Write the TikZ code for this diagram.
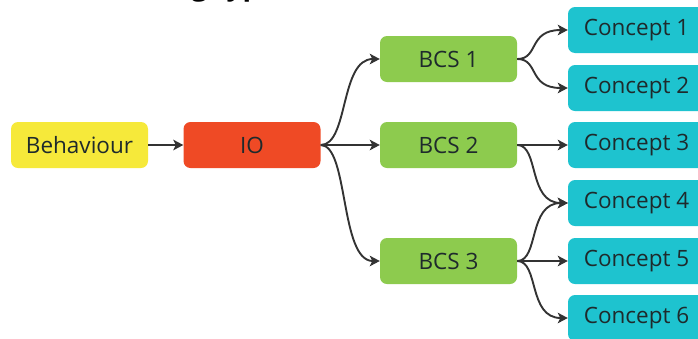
\documentclass[tikz,border=0pt]{standalone}
\usepackage{fontspec}
\setmainfont{Open Sans}
\usetikzlibrary{arrows.meta}
\definecolor{boxyellow}{HTML}{F6E93A}
\definecolor{boxred}{HTML}{EF4A25}
\definecolor{boxgreen}{HTML}{8DCB4E}
\definecolor{boxcyan}{HTML}{1EC3CF}
\definecolor{linkgray}{HTML}{333333}
\definecolor{labelink}{HTML}{1E2A2C}
\tikzset{
  card/.style={rounded corners=7pt, minimum width=137pt, minimum height=46pt,
    inner sep=0pt, text=labelink, font=\fontsize{22.5}{26}\selectfont},
  behaviourbox/.style={card, fill=boxyellow},
  iobox/.style={card, fill=boxred},
  bcsbox/.style={card, fill=boxgreen},
  conceptbox/.style={card, fill=boxcyan},
  link/.style={draw=linkgray, line width=1.9pt,
    -{Stealth[length=10pt,width=10.5pt,inset=2.5pt]}},
  swoop/.style={to path={.. controls +(#1,0) and +(-40,0) .. (\tikztotarget)}},
  swoop/.default=28,
}
\begin{document}
\begin{tikzpicture}[x=1pt,y=-1pt]
  \useasboundingbox (0,0) rectangle (698,338);
  % heading, mostly above the page edge
  \node[anchor=base west, inner sep=0pt, font=\fontsize{28}{32}\selectfont\bfseries]
    (heading) at (84,-5) {Learning types};

  % boxes
  \node[behaviourbox] (beh) at (79.5,145) {Behaviour};
  \node[iobox] (io) at (252,145) {IO};
  \node[bcsbox] (b1) at (448.5,59) {BCS 1};
  \node[bcsbox] (b2) at (448.5,145) {BCS 2};
  \node[bcsbox] (b3) at (448.5,261) {BCS 3};
  \node[conceptbox] (c1) at (636.5,30) {Concept 1};
  \node[conceptbox] (c2) at (636.5,88) {Concept 2};
  \node[conceptbox] (c3) at (636.5,145) {Concept 3};
  \node[conceptbox] (c4) at (636.5,203) {Concept 4};
  \node[conceptbox] (c5) at (636.5,261) {Concept 5};
  \node[conceptbox] (c6) at (636.5,318) {Concept 6};

  % connectors
  \draw[link] (beh.east) -- (io.west);
  \draw[link] (io.east) to[swoop] (b1.west);
  \draw[link] (io.east) -- (b2.west);
  \draw[link] (io.east) to[swoop] (b3.west);
  \draw[link] (b1.east) to[swoop=22] (c1.west);
  \draw[link] (b1.east) to[swoop=22] (c2.west);
  \draw[link] (b2.east) -- (c3.west);
  \draw[link] (b2.east) to[swoop=22] (c4.west);
  \draw[link] (b3.east) to[swoop=22] (c4.west);
  \draw[link] (b3.east) -- (c5.west);
  \draw[link] (b3.east) to[swoop=22] (c6.west);
\end{tikzpicture}
\end{document}
